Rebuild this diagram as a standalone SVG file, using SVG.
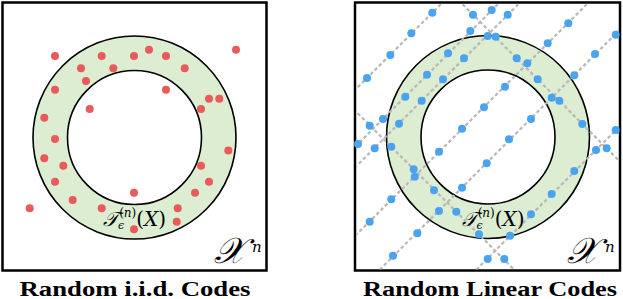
<svg xmlns="http://www.w3.org/2000/svg" width="623" height="299" viewBox="0 0 623 299">
<style>
.box{fill:#ffffff;stroke:#000000;stroke-width:2.5}
.ring{fill:#dcedd2;stroke:#000000;stroke-width:1.6;fill-rule:evenodd}
.r{fill:#e95a5a}
.b{fill:#4aa3f0}
.dash{stroke:#b8b8b8;stroke-width:2.2;stroke-dasharray:3.5 2.5;fill:none}
.cap{font-family:"Liberation Serif","DejaVu Serif",serif;font-weight:bold;font-size:20px;fill:#000}
.math{font-family:"DejaVu Serif","Liberation Serif",serif;font-style:italic;fill:#000}
</style>
<defs>
<clipPath id="clipR"><rect x="356" y="3.5" width="263" height="266"/></clipPath>
</defs>

<g id="panel-iid">
<rect class="box" x="2.5" y="2.5" width="264" height="268"/>
<path class="ring" d="M33,137.5 a101.5,101.5 0 1,0 203,0 a101.5,101.5 0 1,0 -203,0 Z M67.5,137.5 a67,67 0 1,0 134,0 a67,67 0 1,0 -134,0 Z"/>
<g id="dots-iid">
<circle class="r" cx="55" cy="56" r="4"/>
<circle class="r" cx="101.7" cy="56" r="4"/>
<circle class="r" cx="134" cy="56" r="4"/>
<circle class="r" cx="149" cy="49.7" r="4"/>
<circle class="r" cx="166" cy="56" r="4"/>
<circle class="r" cx="236" cy="49.7" r="4"/>
<circle class="r" cx="81" cy="68.3" r="4"/>
<circle class="r" cx="113.3" cy="68.3" r="4"/>
<circle class="r" cx="184.7" cy="68.3" r="4"/>
<circle class="r" cx="86" cy="81" r="4"/>
<circle class="r" cx="55" cy="89.7" r="4"/>
<circle class="r" cx="166" cy="89.7" r="4"/>
<circle class="r" cx="209" cy="98.7" r="4"/>
<circle class="r" cx="219.3" cy="98.7" r="4"/>
<circle class="r" cx="89.7" cy="109" r="4"/>
<circle class="r" cx="201" cy="109" r="4"/>
<circle class="r" cx="44.3" cy="117.7" r="4"/>
<circle class="r" cx="55" cy="139" r="4"/>
<circle class="r" cx="228.3" cy="150.5" r="4"/>
<circle class="r" cx="44.3" cy="158.3" r="4"/>
<circle class="r" cx="63.3" cy="165.7" r="4"/>
<circle class="r" cx="201" cy="165.7" r="4"/>
<circle class="r" cx="55" cy="181.7" r="4"/>
<circle class="r" cx="209" cy="181.7" r="4"/>
<circle class="r" cx="134" cy="192.7" r="4"/>
<circle class="r" cx="195" cy="192.7" r="4"/>
<circle class="r" cx="72.7" cy="200" r="4"/>
<circle class="r" cx="29.7" cy="208.3" r="4"/>
<circle class="r" cx="101.7" cy="208.3" r="4"/>
<circle class="r" cx="177.7" cy="208.3" r="4"/>
<circle class="r" cx="176.7" cy="221.7" r="4"/>
<circle class="r" cx="134" cy="229.3" r="4"/>
</g>
<text class="math" x="103" y="226" font-size="20">𝒯<tspan font-size="11" dy="3">ϵ</tspan><tspan font-size="12" font-style="normal" dx="-5" dy="-12">(</tspan><tspan font-size="12" dy="0">n</tspan><tspan font-size="12" font-style="normal">)</tspan><tspan font-style="normal" dy="9">(</tspan>X<tspan font-style="normal">)</tspan></text>
<text class="math" x="214" y="263" font-size="36">𝒳<tspan font-size="15" x="252" dy="-11">n</tspan></text>
<text class="cap" x="135" y="296" text-anchor="middle" textLength="231" lengthAdjust="spacingAndGlyphs">Random i.i.d. Codes</text>
</g>

<g id="panel-linear">
<rect class="box" x="355" y="2.5" width="265" height="268"/>
<path class="ring" d="M386.5,137 a101.5,101.5 0 1,0 203,0 a101.5,101.5 0 1,0 -203,0 Z M421,137 a67,67 0 1,0 134,0 a67,67 0 1,0 -134,0 Z"/>
<g id="connectors" clip-path="url(#clipR)">
<line class="dash" x1="445" y1="0" x2="345" y2="100"/>
<line class="dash" x1="502" y1="0" x2="345" y2="157"/>
<line class="dash" x1="522.5" y1="0" x2="345" y2="177.5"/>
<line class="dash" x1="591" y1="0" x2="345" y2="246"/>
<line class="dash" x1="649.5" y1="0" x2="370" y2="279.5"/>
<line class="dash" x1="746" y1="0" x2="460" y2="286"/>
<line class="dash" x1="458.4" y1="0" x2="640" y2="181.6"/>
<line class="dash" x1="345" y1="100.5" x2="530" y2="285.5"/>
</g>
<g id="dots-linear">
<circle class="b" cx="432.3" cy="12.7" r="4"/>
<circle class="b" cx="411.3" cy="33.3" r="4"/>
<circle class="b" cx="390.3" cy="55" r="4"/>
<circle class="b" cx="367" cy="78" r="4"/>
<circle class="b" cx="473" cy="14.7" r="4"/>
<circle class="b" cx="470.3" cy="31" r="4"/>
<circle class="b" cx="448" cy="53.3" r="4"/>
<circle class="b" cx="464" cy="58.3" r="4"/>
<circle class="b" cx="427" cy="74.7" r="4"/>
<circle class="b" cx="443" cy="79.3" r="4"/>
<circle class="b" cx="405.3" cy="96.7" r="4"/>
<circle class="b" cx="421.7" cy="100.7" r="4"/>
<circle class="b" cx="383" cy="119" r="4"/>
<circle class="b" cx="369.7" cy="125.7" r="4"/>
<circle class="b" cx="399" cy="123.7" r="4"/>
<circle class="b" cx="484" cy="107.3" r="4"/>
<circle class="b" cx="462" cy="128.7" r="4"/>
<circle class="b" cx="491.7" cy="10" r="4"/>
<circle class="b" cx="507.7" cy="14.7" r="4"/>
<circle class="b" cx="568.3" cy="23.3" r="4"/>
<circle class="b" cx="615.7" cy="34.7" r="4"/>
<circle class="b" cx="487.7" cy="36" r="4"/>
<circle class="b" cx="495.7" cy="36.7" r="4"/>
<circle class="b" cx="547.7" cy="43.3" r="4"/>
<circle class="b" cx="595" cy="54" r="4"/>
<circle class="b" cx="516.7" cy="58.3" r="4"/>
<circle class="b" cx="527.3" cy="63.3" r="4"/>
<circle class="b" cx="574.3" cy="75.3" r="4"/>
<circle class="b" cx="537.7" cy="79.3" r="4"/>
<circle class="b" cx="505" cy="86.7" r="4"/>
<circle class="b" cx="551.7" cy="97.7" r="4"/>
<circle class="b" cx="559.3" cy="100.7" r="4"/>
<circle class="b" cx="531" cy="119" r="4"/>
<circle class="b" cx="582.3" cy="124" r="4"/>
<circle class="b" cx="615.7" cy="130" r="4"/>
<circle class="b" cx="509" cy="139.3" r="4"/>
<circle class="b" cx="358" cy="144" r="4"/>
<circle class="b" cx="374.7" cy="148.3" r="4"/>
<circle class="b" cx="391.3" cy="146.7" r="4"/>
<circle class="b" cx="439" cy="151.7" r="4"/>
<circle class="b" cx="413.7" cy="169.3" r="4"/>
<circle class="b" cx="414.7" cy="176.7" r="4"/>
<circle class="b" cx="462" cy="187.7" r="4"/>
<circle class="b" cx="434" cy="190.3" r="4"/>
<circle class="b" cx="391.3" cy="199.3" r="4"/>
<circle class="b" cx="439" cy="211" r="4"/>
<circle class="b" cx="456.3" cy="211.7" r="4"/>
<circle class="b" cx="369.7" cy="221.7" r="4"/>
<circle class="b" cx="417.3" cy="233.3" r="4"/>
<circle class="b" cx="479" cy="234.3" r="4"/>
<circle class="b" cx="393" cy="255.7" r="4"/>
<circle class="b" cx="486.7" cy="163.3" r="4"/>
<circle class="b" cx="596" cy="150" r="4"/>
<circle class="b" cx="606.7" cy="148.3" r="4"/>
<circle class="b" cx="574.3" cy="171" r="4"/>
<circle class="b" cx="551.7" cy="194" r="4"/>
<circle class="b" cx="531" cy="214.3" r="4"/>
<circle class="b" cx="510" cy="235.7" r="4"/>
<circle class="b" cx="487.7" cy="259" r="4"/>
<circle class="b" cx="504.3" cy="259" r="4"/>
</g>
<text class="math" x="461.5" y="226" font-size="20">𝒯<tspan font-size="11" dy="3">ϵ</tspan><tspan font-size="12" font-style="normal" dx="-5" dy="-12">(</tspan><tspan font-size="12" dy="0">n</tspan><tspan font-size="12" font-style="normal">)</tspan><tspan font-style="normal" dy="9">(</tspan>X<tspan font-style="normal">)</tspan></text>
<text class="math" x="567" y="263" font-size="36">𝒳<tspan font-size="15" x="605" dy="-11">n</tspan></text>
<text class="cap" x="490" y="296" text-anchor="middle" textLength="254" lengthAdjust="spacingAndGlyphs">Random Linear Codes</text>
</g>
</svg>
